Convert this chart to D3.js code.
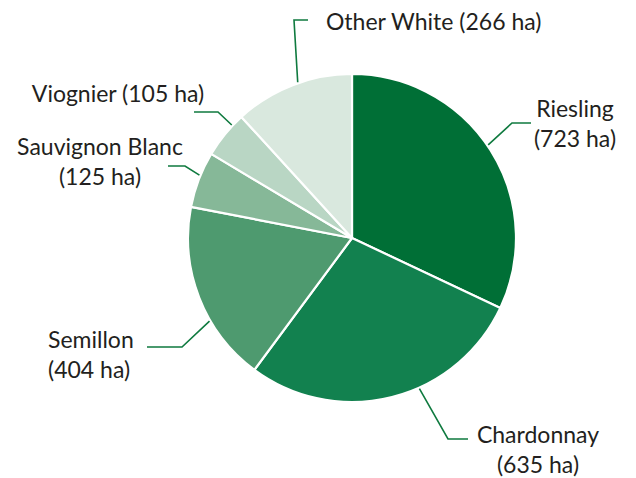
<!DOCTYPE html>
<html>
<head>
<meta charset="utf-8">
<script src="https://cdn.jsdelivr.net/npm/d3@7"></script>
<style>
  body { margin: 0; background: #fff; }
  text { font-family: Lato, sans-serif; font-size: 23px; fill: #231f20; }
</style>
</head>
<body>
<div id="chart"></div>
<script>
// grape varieties, area in hectares
var varieties = ['Riesling', 'Chardonnay', 'Semillon', 'Sauvignon Blanc', 'Viognier', 'Other White']
var hectares = [723, 635, 404, 125, 105, 266]
var colors = ['#006f36', '#12814f', '#4e9a6f', '#86b898', '#b9d6c4', '#d9e8de']

var width = 636
var height = 478
var cx = 352
var cy = 238
var r = 164

// label layout: angle tweak (deg) for leader start, elbow, end of horizontal, text pos
var labelLayout = [
  { da: -2, elbow: [512, 123], end: 531, tx: 575, ty: 117, anchor: 'middle', lines: ['Riesling', '(723 ha)'] },
  { da: -10, elbow: [448, 439], end: 468, tx: 538, ty: 443, anchor: 'middle', lines: ['Chardonnay', '(635 ha)'] },
  { da: -9, elbow: [182, 347], end: 147, tx: 48, ty: 348, anchor: 'start', lines: ['Semillon', '(404 ha)'] },
  { da: 1.5, elbow: [185, 166], end: 168, tx: 100, ty: 155, anchor: 'middle', lines: ['Sauvignon Blanc', '(125 ha)'] },
  { da: 4, elbow: [218, 112], end: 194, tx: 118, ty: 102, anchor: 'middle', lines: ['Viognier (105 ha)'] },
  { da: 2, elbow: [294, 20], end: 308, tx: 326, ty: 30, anchor: 'start', lines: ['Other White (266 ha)'] }
]

var data = varieties.map(function(v, i) {
  return { name: v, value: hectares[i], color: colors[i], label: labelLayout[i] }
})

var svg = d3.select('#chart')
  .append('svg')
  .attr('width', width)
  .attr('height', height)

var pie = d3.pie()
  .sort(null)
  .value(function(d) { return d.value })

var arc = d3.arc()
  .innerRadius(0)
  .outerRadius(r)

var arcs = pie(data)

var g = svg.append('g')
  .attr('transform', 'translate(' + cx + ',' + cy + ')')

g.selectAll('path')
  .data(arcs)
  .enter()
  .append('path')
  .attr('d', arc)
  .style('fill', function(d) { return d.data.color })
  .style('stroke', '#fff')
  .style('stroke-width', 2.2)
  .style('stroke-linejoin', 'round')

//leader lines
svg.append('g')
  .selectAll('polyline')
  .data(arcs)
  .enter()
  .append('polyline')
  .attr('points', function(d) {
    var L = d.data.label
    var a = (d.startAngle + d.endAngle) / 2 + L.da * Math.PI / 180
    var sx = cx + (r + 1) * Math.sin(a)
    var sy = cy - (r + 1) * Math.cos(a)
    return [[sx, sy], L.elbow, [L.end, L.elbow[1]]].map(function(p) { return p.join(',') }).join(' ')
  })
  .style('fill', 'none')
  .style('stroke', '#0f7a3f')
  .style('stroke-width', 1.6)

//labels
var labels = svg.append('g')
  .selectAll('text')
  .data(arcs)
  .enter()
  .append('text')
  .attr('text-anchor', function(d) { return d.data.label.anchor })
  .attr('x', function(d) { return d.data.label.tx })
  .attr('y', function(d) { return d.data.label.ty })

labels.selectAll('tspan')
  .data(function(d) {
    return d.data.label.lines.map(function(t) { return { t: t, x: d.data.label.tx } })
  })
  .enter()
  .append('tspan')
  .attr('x', function(d) { return d.x })
  .attr('dy', function(d, i) { return i === 0 ? 0 : 30 })
  .text(function(d) { return d.t })
</script>
</body>
</html>
